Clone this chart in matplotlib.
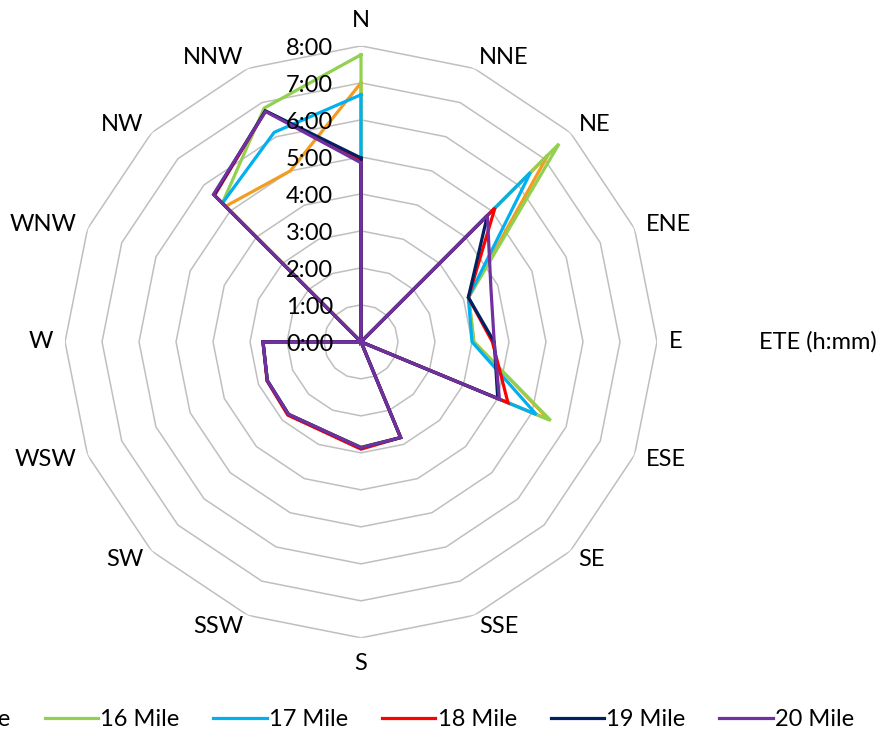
import numpy as np
import matplotlib
matplotlib.use("Agg")
import matplotlib.pyplot as plt
from matplotlib.transforms import offset_copy

plt.rcParams['font.family'] = ['Lato', 'DejaVu Sans']

directions = ['N', 'NNE', 'NE', 'ENE', 'E', 'ESE', 'SE', 'SSE',
              'S', 'SSW', 'SW', 'WSW', 'W', 'WNW', 'NW', 'NNW']

# ETE in hours for each direction
mile15 = [7.00, 0, 7.15, 3.15, 3.05, 5.50, 0, 2.80, 2.85, 2.60, 2.77, 2.74, 2.65, 0, 5.18, 5.00]
mile16 = [7.76, 0, 7.57, 3.15, 3.05, 5.55, 0, 2.80, 2.85, 2.60, 2.77, 2.74, 2.65, 0, 5.30, 6.84]
mile17 = [6.68, 0, 6.48, 3.14, 3.00, 5.13, 0, 2.80, 2.86, 2.62, 2.78, 2.74, 2.65, 0, 5.30, 6.13]
mile18 = [4.90, 0, 5.12, 3.14, 3.55, 4.30, 0, 2.80, 2.90, 2.63, 2.80, 2.75, 2.65, 0, 5.60, 6.75]
mile19 = [4.97, 0, 4.83, 3.14, 3.60, 4.00, 0, 2.80, 2.86, 2.60, 2.77, 2.74, 2.65, 0, 5.62, 6.76]
mile20 = [4.84, 0, 4.83, 3.80, 3.60, 4.05, 0, 2.80, 2.86, 2.60, 2.77, 2.74, 2.65, 0, 5.64, 6.74]

series = {'15 Mile': mile15, '16 Mile': mile16, '17 Mile': mile17,
          '18 Mile': mile18, '19 Mile': mile19, '20 Mile': mile20}
colors = ['#F39C1F', '#92D050', '#00B0F0', '#FF0000', '#002060', '#7030A0']
hour_labels = ['0:00', '1:00', '2:00', '3:00', '4:00', '5:00', '6:00', '7:00', '8:00']

fig = plt.figure(figsize=(8.88, 7.34), dpi=100)
ax = fig.add_axes([0.0732, 0.131, 0.6667, 0.8065], projection='polar')
ax.set_theta_zero_location('N')
ax.set_theta_direction(-1)
ax.set_ylim(0, 8)
ax.grid(False)
ax.spines['polar'].set_visible(False)
ax.set_xticks([])
ax.set_yticks([])
ax.patch.set_alpha(0)

theta = np.linspace(0, 2 * np.pi, len(directions), endpoint=False)
theta_c = np.append(theta, theta[0])

# polygon grid rings
for r in range(1, 9):
    ax.plot(theta_c, [r] * len(theta_c), color='#BFBFBF', lw=1.1, zorder=1)

for (name, vals), c in zip(series.items(), colors):
    ax.plot(theta_c, vals + vals[:1], color=c, lw=2.3, label=name, zorder=3,
            solid_joinstyle='miter')

# hour labels along the N axis
tr = offset_copy(ax.transData, fig=fig, x=-28, y=-3, units='dots')
for i, lab in enumerate(hour_labels):
    ax.text(0, i, lab, transform=tr, ha='right', va='center', fontsize=17, zorder=4)

# direction labels, anchored on the side facing the chart like Excel does
for t, d in zip(theta, directions):
    s, c = np.sin(t), np.cos(t)
    if abs(s) < 0.1:
        ax.text(t, 8.4, d, ha='center', va='bottom' if c > 0 else 'top', fontsize=17)
    else:
        ax.text(t, 8.32, d, ha='left' if s > 0 else 'right', va='center', fontsize=17)

fig.text(818 / 888, 1 - 342 / 734, 'ETE (h:mm)', ha='center', va='center', fontsize=17)

fig.legend(loc='center', bbox_to_anchor=(365 / 888, 14 / 734), ncol=6, frameon=False,
           fontsize=17, handlelength=2.25, handletextpad=0.1, columnspacing=1.44)

fig.savefig('out.png', dpi=100)
